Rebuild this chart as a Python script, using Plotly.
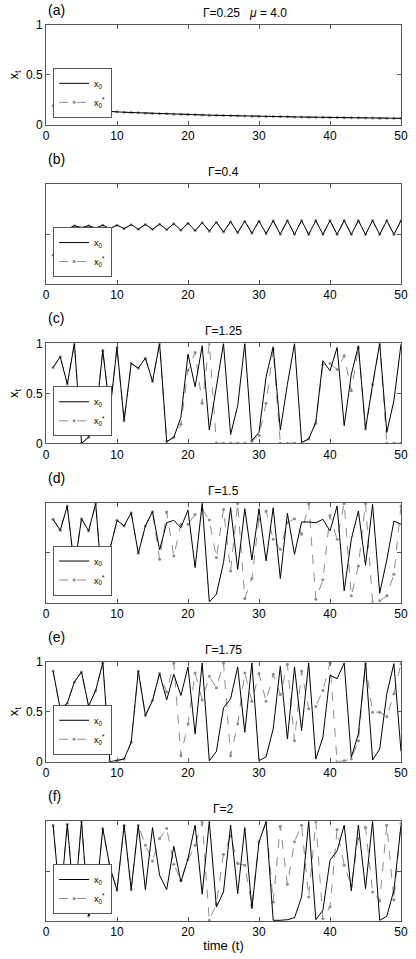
import plotly.graph_objects as go
from plotly.subplots import make_subplots

# time steps
t = list(range(1, 51))

# (a) Gamma=0.25, mu=4.0 -- both runs coincide
a_x0 = [0.190, 0.178, 0.168, 0.160, 0.153, 0.147, 0.142, 0.138, 0.134, 0.130,
        0.126, 0.123, 0.120, 0.117, 0.114, 0.112, 0.110, 0.107, 0.105, 0.103,
        0.101, 0.099, 0.097, 0.095, 0.093, 0.092, 0.090, 0.089, 0.087, 0.086,
        0.084, 0.083, 0.082, 0.080, 0.079, 0.078, 0.077, 0.076, 0.075, 0.074,
        0.073, 0.072, 0.071, 0.070, 0.069, 0.068, 0.067, 0.066, 0.066, 0.065]
a_x0s = list(a_x0)

# (b) Gamma=0.4
b_x0 = [0.29, 0.45, 0.55, 0.585, 0.565, 0.585, 0.56, 0.59, 0.555, 0.59,
        0.555, 0.595, 0.55, 0.597, 0.548, 0.60, 0.545, 0.605, 0.54, 0.61,
        0.535, 0.615, 0.53, 0.62, 0.522, 0.625, 0.515, 0.63, 0.51, 0.632,
        0.505, 0.634, 0.50, 0.636, 0.498, 0.636, 0.497, 0.636, 0.497, 0.636,
        0.497, 0.636, 0.497, 0.636, 0.497, 0.636, 0.497, 0.636, 0.497, 0.636]
b_x0s = list(b_x0)

# (c) Gamma=1.25
c_x0 = [0.76, 0.867, 0.593, 1.0, 0.0, 0.06, 0.25, 0.933, 0.32, 0.96,
        0.227, 0.80, 0.753, 0.853, 0.62, 1.0, 0.017, 0.06, 0.26, 0.893,
        0.567, 0.977, 0.133, 0.55, 1.0, 0.087, 0.377, 1.0, 0.027, 0.11,
        0.667, 0.967, 0.133, 0.59, 1.0, 0.01, 0.043, 0.21, 0.827, 0.727,
        0.96, 0.177, 0.69, 0.977, 0.143, 0.59, 1.0, 0.11, 0.427, 0.993]
c_x0s = [0.76, 0.867, 0.593, 1.0, 0.0, 0.06, 0.25, 0.933, 0.32, 0.96,
         0.227, 0.80, 0.753, 0.853, 0.62, 1.0, 0.017, 0.06, 0.19, 0.73,
         0.91, 0.40, 1.0, 0.0, 0.0, 0.0, 0.0, 0.0, 0.02, 0.08,
         0.40, 0.94, 0.0, 0.0, 0.0, 0.0, 0.043, 0.20, 0.79, 0.80,
         0.74, 0.877, 0.527, 0.96, 0.143, 0.59, 1.0, 0.0, 0.0, 0.0]

# (d) Gamma=1.5
d_x0 = [0.833, 0.723, 0.967, 0.35, 0.84, 0.717, 0.99, 0.10, 0.533, 0.823,
        0.767, 0.90, 0.493, 0.767, 0.91, 0.527, 0.80, 0.823, 0.75, 0.927,
        0.35, 0.993, 0.007, 0.083, 0.40, 0.95, 0.333, 0.94, 0.427, 0.94,
        0.417, 0.95, 0.24, 0.893, 0.483, 0.807, 0.807, 0.80, 0.833, 0.717,
        0.967, 0.117, 0.633, 0.917, 0.373, 0.983, 0.093, 0.427, 0.817, 0.783]
d_x0s = [0.833, 0.723, 0.967, 0.35, 0.84, 0.717, 0.99, 0.10, 0.533, 0.823,
         0.767, 0.90, 0.493, 0.767, 0.91, 0.433, 0.907, 0.467, 0.783, 0.783,
         0.883, 0.933, 0.827, 0.45, 0.933, 0.317, 0.993, 0.04, 0.24, 0.833,
         0.917, 0.633, 0.533, 0.80, 0.84, 0.683, 0.993, 0.033, 0.227, 0.873,
         0.633, 0.993, 0.067, 0.367, 0.993, 0.0, 0.017, 0.067, 0.283, 0.967]

# (e) Gamma=1.75
e_x0 = [0.909, 0.53, 0.587, 0.80, 0.90, 0.557, 0.715, 0.993, 0.0, 0.01,
        0.027, 0.195, 0.909, 0.463, 0.614, 0.883, 0.62, 0.876, 0.664, 0.95,
        0.279, 0.99, 0.01, 0.104, 0.54, 0.631, 0.95, 0.295, 0.99, 0.01,
        0.05, 0.329, 0.956, 0.228, 0.95, 0.312, 0.99, 0.027, 0.245, 0.866,
        0.832, 0.99, 0.044, 0.279, 0.99, 0.017, 0.128, 0.681, 0.983, 0.104]
e_x0s = [0.909, 0.53, 0.587, 0.80, 0.90, 0.557, 0.715, 0.993, 0.0, 0.01,
         0.027, 0.195, 0.909, 0.463, 0.614, 0.883, 0.698, 0.99, 0.06, 0.379,
         0.889, 0.62, 0.856, 0.742, 0.99, 0.06, 0.379, 0.889, 0.607, 0.883,
         0.607, 0.876, 0.674, 0.977, 0.211, 0.909, 0.53, 0.554, 0.715, 0.99,
         0.0, 0.01, 0.027, 0.211, 0.983, 0.497, 0.497, 0.453, 0.681, 0.983]

# (f) Gamma=2
f_x0 = [0.96, 0.18, 0.97, 0.15, 1.0, 0.05, 0.20, 0.926, 0.542, 0.308,
        0.96, 0.314, 0.96, 0.314, 0.936, 0.458, 0.314, 0.749, 0.391, 0.625,
        0.96, 0.268, 1.0, 0.14, 0.291, 0.96, 0.274, 0.936, 0.124, 0.793,
        0.993, 0.007, 0.007, 0.013, 0.033, 0.241, 1.0, 0.013, 0.107, 0.609,
        0.702, 0.96, 0.301, 0.96, 0.324, 1.0, 0.007, 0.047, 0.308, 0.96]
f_x0s = [0.96, 0.18, 0.97, 0.15, 1.0, 0.05, 0.20, 0.926, 0.542, 0.308,
         0.96, 0.314, 0.96, 0.759, 0.602, 0.826, 0.926, 0.569, 0.408, 0.615,
         0.759, 0.993, 0.007, 0.174, 0.669, 0.849, 0.575, 0.559, 0.157, 0.793,
         0.993, 0.191, 0.95, 0.368, 0.793, 0.96, 0.241, 0.993, 0.023, 0.14,
         0.916, 0.559, 0.358, 0.826, 0.936, 0.291, 0.201, 0.96, 0.214, 0.977]

labels = ["(a)", "(b)", "(c)", "(d)", "(e)", "(f)"]
titles = ["Γ=0.25   <i>μ</i> = 4.0", "Γ=0.4", "Γ=1.25", "Γ=1.5", "Γ=1.75", "Γ=2"]
series = [(a_x0, a_x0s), (b_x0, b_x0s), (c_x0, c_x0s),
          (d_x0, d_x0s), (e_x0, e_x0s), (f_x0, f_x0s)]

H = 959
PLOT_H = 959 - 25 - 37

fig = make_subplots(rows=6, cols=1, vertical_spacing=0.0663)

grey = "#8c8c8c"
for i, (x0, x0s) in enumerate(series):
    r = i + 1
    leg = "legend" if i == 0 else f"legend{i + 1}"
    fig.add_trace(go.Scatter(
        x=t, y=x0s, mode="lines+markers", name="x<sub>0</sub><sup>*</sup>",
        line=dict(color=grey, width=1, dash="dash"),
        marker=dict(size=3, color=grey),
        legend=leg, legendrank=2), row=r, col=1)
    fig.add_trace(go.Scatter(
        x=t, y=x0, mode="lines", name="x<sub>0</sub>",
        line=dict(color="black", width=1),
        legend=leg, legendrank=1), row=r, col=1)

fig.update_xaxes(range=[0, 50], tickvals=[0, 10, 20, 30, 40, 50],
                 ticks="inside", ticklen=4, tickcolor="#555",
                 mirror="ticks", showline=True, linecolor="#555", linewidth=1,
                 showgrid=False, zeroline=False, tickfont=dict(size=12))
fig.update_yaxes(range=[0, 1], tickvals=[0, 0.5, 1], ticktext=["0", "0.5", "1"],
                 ticks="inside", ticklen=4, tickcolor="#555",
                 mirror="ticks", showline=True, linecolor="#555", linewidth=1,
                 showgrid=False, zeroline=False, tickfont=dict(size=12))

for r in (1, 3, 5):
    fig.update_yaxes(title=dict(text="x<sub>t</sub>", font=dict(size=13), standoff=4),
                     row=r, col=1)
for r in (2, 4, 6):
    fig.update_yaxes(showticklabels=False, row=r, col=1)
fig.update_xaxes(title=dict(text="time (t)", font=dict(size=13), standoff=2), row=6, col=1)

annotations = []
legends = {}
for i in range(6):
    yname = "yaxis" if i == 0 else f"yaxis{i + 1}"
    d0, d1 = fig.layout[yname].domain
    lab_off = 15 if i == 0 else 25
    annotations.append(dict(text=labels[i], x=0.0, xref="paper", xanchor="left",
                            y=d1 + lab_off / PLOT_H, yref="paper", yanchor="middle",
                            showarrow=False, font=dict(size=14)))
    if i == 0:
        annotations.append(dict(text=titles[i], x=(204 - 46) / 362, xref="paper",
                                xanchor="left", y=d1 + 12 / PLOT_H, yref="paper",
                                yanchor="middle", showarrow=False, font=dict(size=12)))
    else:
        annotations.append(dict(text=titles[i], x=0.5, xref="paper", xanchor="center",
                                y=d1 + 12 / PLOT_H, yref="paper", yanchor="middle",
                                showarrow=False, font=dict(size=12)))
    key = "legend" if i == 0 else f"legend{i + 1}"
    legends[key] = dict(x=0.02, y=d0 + 7 / PLOT_H, xanchor="left", yanchor="bottom",
                        bgcolor="white", bordercolor="#555", borderwidth=1,
                        font=dict(size=9, color="black"), itemwidth=30, tracegroupgap=0)

fig.update_layout(
    width=416, height=H,
    margin=dict(l=46, r=8, t=25, b=37),
    plot_bgcolor="white", paper_bgcolor="white",
    font=dict(family="Liberation Sans, Arial, sans-serif", size=12, color="black"),
    showlegend=True,
    annotations=annotations,
    **legends,
)

# drop the default page margin so the figure sits at the window's corner
fig.write_html("out.html",
               config={"displayModeBar": False},
               post_script="document.body.style.margin='0';"
                           "document.body.style.overflow='hidden';")
